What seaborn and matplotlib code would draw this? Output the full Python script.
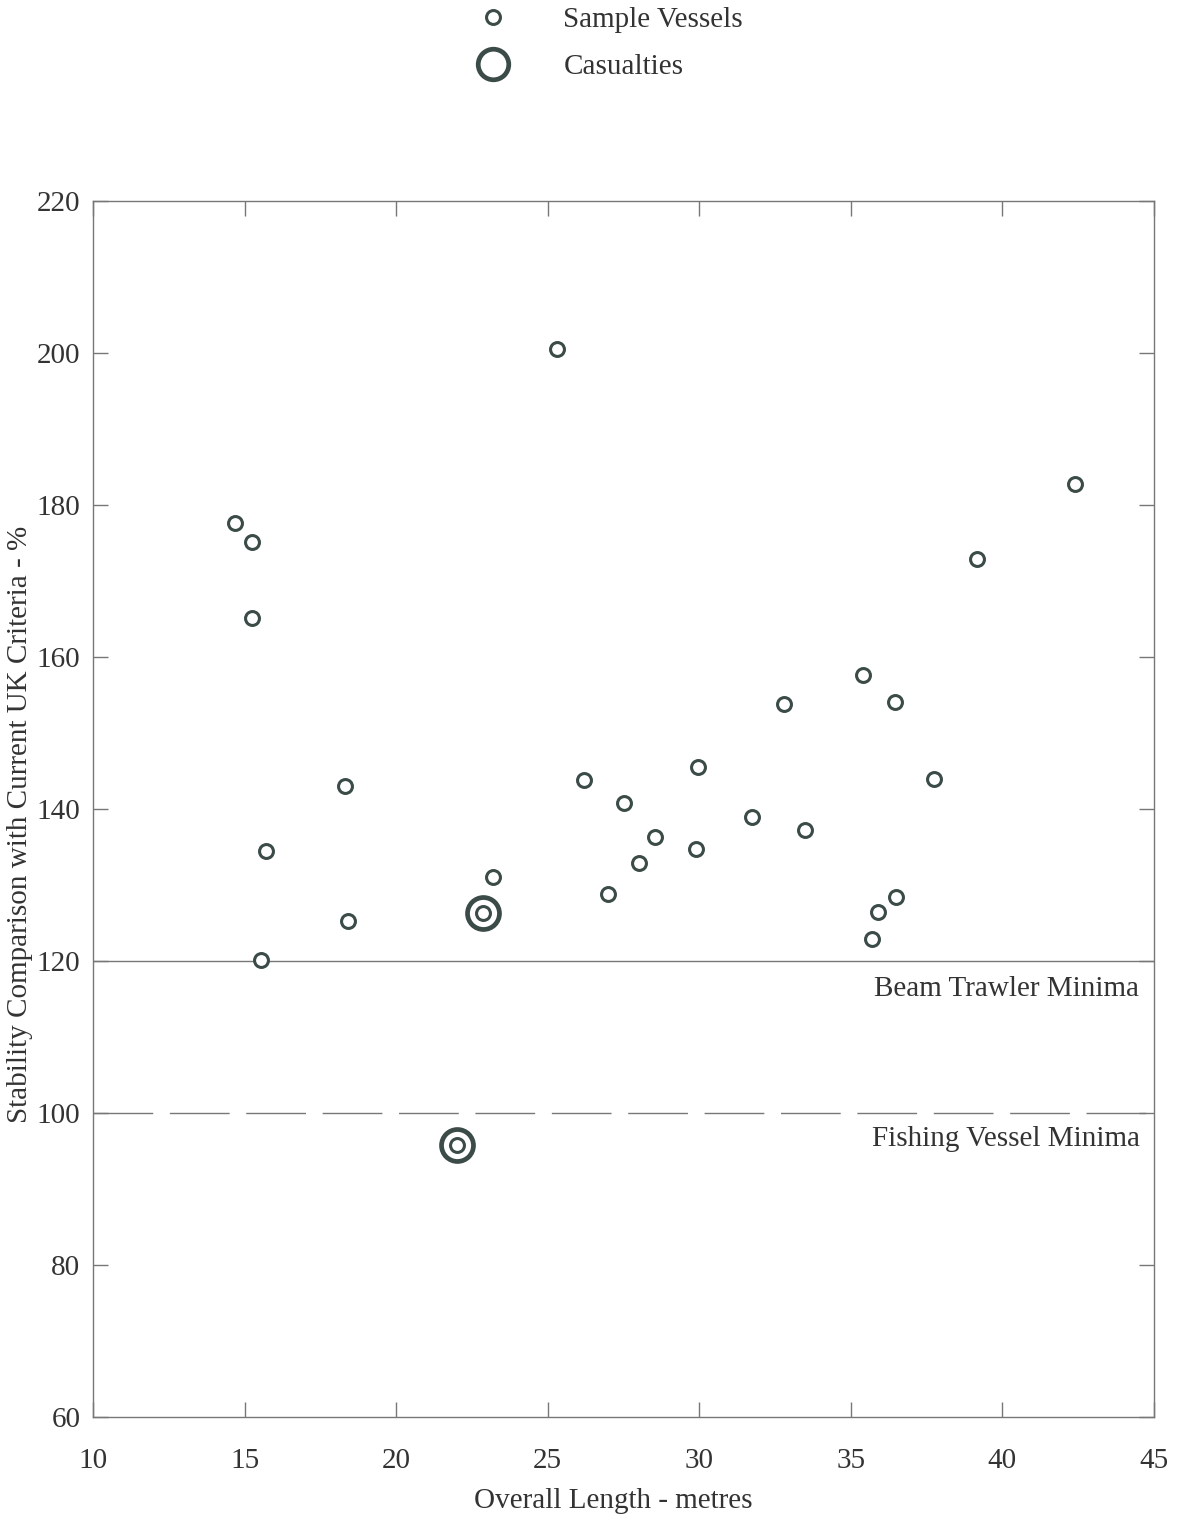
import matplotlib
matplotlib.use("Agg")
import matplotlib.pyplot as plt
from matplotlib.lines import Line2D
import seaborn as sns
import pandas as pd

# Sample fishing vessels: overall length (m) vs stability relative to UK criteria (%)
sample_length = [14.7, 15.25, 15.25, 15.7, 15.55, 18.3, 18.4, 23.2, 25.3, 26.2,
                 27.0, 27.5, 28.0, 28.55, 29.95, 29.9, 31.75, 32.8, 33.5, 35.4,
                 36.45, 37.75, 35.7, 35.9, 36.5, 39.15, 42.4]
sample_stability = [177.6, 175.1, 165.1, 134.5, 120.1, 143.0, 125.3, 131.1, 200.5, 143.8,
                    128.8, 140.8, 132.9, 136.3, 145.5, 134.7, 138.9, 153.8, 137.2, 157.6,
                    154.1, 143.9, 122.9, 126.4, 128.4, 172.9, 182.8]

# Vessels lost (casualties)
casualty_length = [22.85, 22.0]
casualty_stability = [126.3, 95.8]

# Criteria minima
beam_trawler_min = 120
fishing_vessel_min = 100

x_ticks = [10, 15, 20, 25, 30, 35, 40, 45]
y_ticks = [60, 80, 100, 120, 140, 160, 180, 200, 220]

sns.set_theme(style="ticks")
plt.rcParams["font.family"] = ["Liberation Serif", "DejaVu Serif"]

ink = "#3b4b47"
text_col = "#333333"
line_col = "#777777"
fs = 21

samples = pd.DataFrame({"length": sample_length, "stability": sample_stability})
casualties = pd.DataFrame({"length": casualty_length, "stability": casualty_stability})

fig = plt.figure(figsize=(11.81, 15.16), dpi=100)
ax = fig.add_axes([93 / 1181, 1 - 1417 / 1516, (1154 - 93) / 1181, (1417 - 201) / 1516])

# Reference lines
ax.axhline(beam_trawler_min, color=line_col, lw=1.0, zorder=1)
dash = ax.axhline(fishing_vessel_min, color=line_col, lw=1.0, zorder=1)
dash.set_dashes((43, 12))

# Outer rings for casualties
sns.scatterplot(data=casualties, x="length", y="stability", ax=ax, s=23 ** 2,
                marker="o", facecolor="white", edgecolor=ink, linewidth=3.4, zorder=3)
# Sample vessel rings (casualties carry the inner ring too)
sns.scatterplot(data=pd.concat([samples, casualties]), x="length", y="stability", ax=ax,
                s=10 ** 2, marker="o", facecolor="white", edgecolor=ink, linewidth=2.2,
                zorder=4)

ax.text(44.5, 116.3, "Beam Trawler Minima", ha="right", va="center",
        fontsize=fs, color=text_col)
ax.text(44.55, 96.6, "Fishing Vessel Minima", ha="right", va="center",
        fontsize=fs, color=text_col)

ax.set_xlim(10, 45)
ax.set_ylim(60, 220)
ax.set_xticks(x_ticks)
ax.set_yticks(y_ticks)
ax.tick_params(axis="both", direction="in", length=11, width=1.0, color=line_col,
               labelsize=fs, labelcolor=text_col, top=True, right=True)
ax.tick_params(axis="x", pad=22)
ax.tick_params(axis="y", pad=9)
for sp in ax.spines.values():
    sp.set_visible(True)
    sp.set_color(line_col)
    sp.set_linewidth(1.0)

ax.set_xlabel("Overall Length - metres", fontsize=fs, color=text_col)
ax.set_ylabel("Stability Comparison with Current UK Criteria - %", fontsize=fs,
              color=text_col)
ax.xaxis.set_label_coords(0.49, -0.058)
ax.yaxis.set_label_coords(-0.0565, 0.487)

handles = [
    Line2D([], [], ls="none", marker="o", ms=10, mfc="white", mec=ink, mew=2.2),
    Line2D([], [], ls="none", marker="o", ms=22, mfc="white", mec=ink, mew=3.4),
]
fig.legend(handles, ["Sample Vessels", "Casualties"], loc="upper left",
           bbox_to_anchor=(443 / 1181, 1.013), frameon=False, fontsize=fs,
           labelcolor=text_col, handlelength=1.6, handletextpad=1.63,
           labelspacing=0.7)

fig.savefig("out.png", dpi=100, facecolor="white")
